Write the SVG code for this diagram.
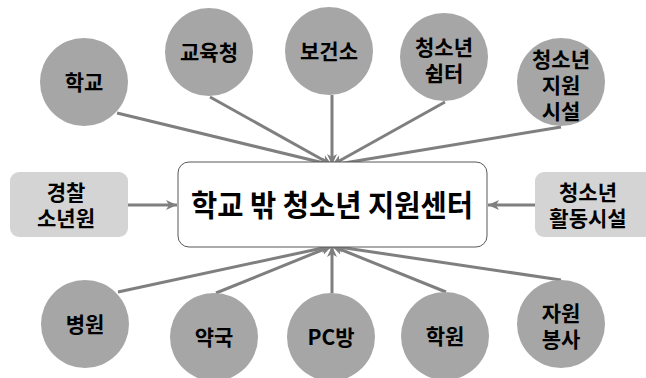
<svg xmlns="http://www.w3.org/2000/svg" width="646" height="378" viewBox="0 0 646 378">
<style>
.c{fill:#a6a6a6}
.b{fill:#d4d4d4}
.t{font-family:"Noto Sans CJK KR","Noto Sans",sans-serif;font-weight:bold;font-size:21px;fill:#000;text-anchor:middle}
.m{font-family:"Noto Sans CJK KR","Noto Sans",sans-serif;font-weight:bold;font-size:30px;fill:#000;text-anchor:middle}
.l{stroke:#7f7f7f;stroke-width:3;fill:none;marker-end:url(#ah)}
</style>
<defs>
<marker id="ah" markerUnits="userSpaceOnUse" markerWidth="12" markerHeight="12" refX="11" refY="6" orient="auto">
<path d="M0,1 L11,6 L0,11 L3,6 z" fill="#7f7f7f"/>
</marker>
</defs>
<rect width="646" height="378" fill="#fff"/>
<g id="connectors">
<line class="l" x1="117" y1="113" x2="332" y2="165"/>
<line class="l" x1="210" y1="97" x2="332" y2="165"/>
<line class="l" x1="332" y1="95" x2="332" y2="165"/>
<line class="l" x1="445" y1="102" x2="332" y2="165"/>
<line class="l" x1="561" y1="127" x2="332" y2="165"/>
<line class="l" x1="118" y1="292" x2="332" y2="246"/>
<line class="l" x1="216" y1="293" x2="332" y2="246"/>
<line class="l" x1="332" y1="293" x2="332" y2="246"/>
<line class="l" x1="446" y1="292" x2="332" y2="246"/>
<line class="l" x1="561" y1="280" x2="332" y2="246"/>
<line class="l" x1="128" y1="205" x2="177" y2="205"/>
<line class="l" x1="535" y1="205" x2="488" y2="205"/>
</g>
<g id="center">
<rect x="178" y="162" width="309" height="85" rx="11" fill="#fff" stroke="#595959" stroke-width="1"/>
<text class="m" x="332" y="216" textLength="282" lengthAdjust="spacingAndGlyphs">학교 밖 청소년 지원센터</text>
</g>
<g id="n-school"><circle class="c" cx="84" cy="82" r="44"/><text class="t" x="84" y="90">학교</text></g>
<g id="n-edu"><circle class="c" cx="209" cy="52" r="44"/><text class="t" x="209" y="60">교육청</text></g>
<g id="n-health"><circle class="c" cx="329" cy="51" r="44"/><text class="t" x="329" y="59">보건소</text></g>
<g id="n-shelter"><circle class="c" cx="444" cy="57" r="44"/><text class="t" x="444" y="55">청소년</text><text class="t" x="444" y="81">쉼터</text></g>
<g id="n-support"><circle class="c" cx="561" cy="82" r="44"/><text class="t" x="561" y="67">청소년</text><text class="t" x="561" y="93">지원</text><text class="t" x="561" y="119">시설</text></g>
<g id="n-police"><rect class="b" x="10" y="172" width="118" height="65" rx="9"/><text class="t" x="66" y="200">경찰</text><text class="t" x="66" y="226">소년원</text></g>
<g id="n-activity"><rect class="b" x="535" y="172" width="125" height="65" rx="9"/><text class="t" x="588" y="200">청소년</text><text class="t" x="588" y="226">활동시설</text></g>
<g id="n-hospital"><circle class="c" cx="85" cy="324" r="44"/><text class="t" x="85" y="332">병원</text></g>
<g id="n-pharmacy"><circle class="c" cx="214" cy="337" r="44"/><text class="t" x="214" y="345">약국</text></g>
<g id="n-pc"><circle class="c" cx="331" cy="337" r="44"/><text class="t" x="331" y="345">PC방</text></g>
<g id="n-academy"><circle class="c" cx="445" cy="336" r="44"/><text class="t" x="445" y="344">학원</text></g>
<g id="n-volunteer"><circle class="c" cx="561" cy="324" r="44"/><text class="t" x="561" y="321">자원</text><text class="t" x="561" y="347">봉사</text></g>
</svg>
